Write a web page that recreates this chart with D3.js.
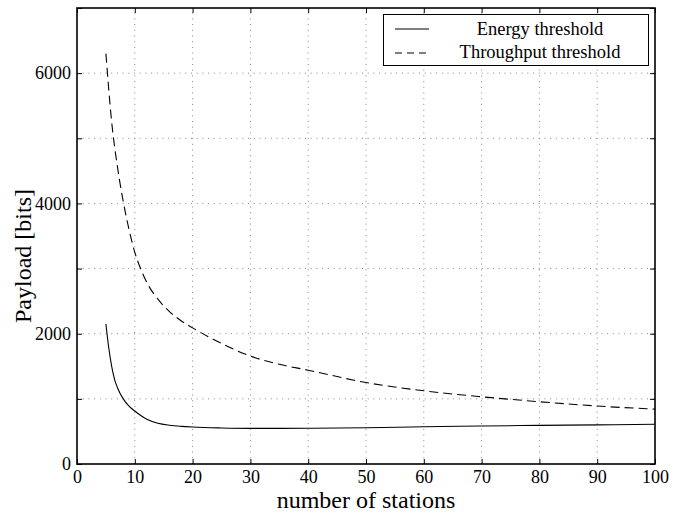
<!DOCTYPE html>
<html><head><meta charset="utf-8">
<script src="https://cdn.jsdelivr.net/npm/d3@7"></script>
<style>body{margin:0;background:#fff}svg{display:block}text{font-family:"Liberation Serif","Times New Roman",serif;fill:#000}</style>
</head><body>
<svg id="c" width="676" height="513"></svg>
<script>
const energyN = [5,5.5,6,6.5,7,8,9,10,12,14,16,18,20,25,30,40,50,60,70,80,90,100];
const energyV = [2150,1780,1500,1300,1170,1000,890,813,690,625,595,578,567,553,547,548,557,572,583,593,600,610];
const thrN = [5,6,7,8,9,10,11,12,14,16,18,20,25,30,35,40,50,60,70,80,90,100];
const thrV = [6300,5250,4560,4030,3600,3250,3000,2800,2530,2340,2200,2090,1850,1656,1530,1440,1250,1124,1032,956,890,843];
const xTicks = [0,10,20,30,40,50,60,70,80,90,100];
const yTicks = [0,1000,2000,3000,4000,5000,6000,7000];
const yLabels = [0,2000,4000,6000];
const seriesNames = ["Energy threshold","Throughput threshold"];

const svg = d3.select("#c");
const L=77,R=655,T=8,B=464;
const x = d3.scaleLinear().domain([0,100]).range([L,R]);
const y = d3.scaleLinear().domain([0,7000]).range([B,T]);

// grid
const g = svg.append("g");
g.selectAll(".gx").data(xTicks.filter(d=>d>0&&d<100)).enter().append("line")
 .attr("x1",d=>x(d)).attr("x2",d=>x(d)).attr("y1",B).attr("y2",T)
 .attr("stroke","#888").attr("stroke-width",1).attr("stroke-dasharray","1,4.7");
g.selectAll(".gy").data(yTicks.filter(d=>d>0&&d<7000)).enter().append("line")
 .attr("x1",L).attr("x2",R).attr("y1",d=>y(d)).attr("y2",d=>y(d))
 .attr("stroke","#888").attr("stroke-width",1).attr("stroke-dasharray","1,4.7");

// axes with inward ticks
const tk=5;
svg.append("g").attr("transform",`translate(0,${B})`)
 .call(d3.axisBottom(x).tickValues(xTicks).tickSize(-tk).tickPadding(6).tickFormat(d3.format("d")))
 .call(a=>{a.select(".domain").remove();a.selectAll("text").attr("font-size",18).attr("dy","0.72em");a.selectAll("line").attr("stroke","#000");});
svg.append("g").attr("transform",`translate(0,${T})`)
 .call(d3.axisTop(x).tickValues(xTicks).tickSize(-tk).tickFormat(""))
 .call(a=>{a.select(".domain").remove();a.selectAll("line").attr("stroke","#000");});
svg.append("g").attr("transform",`translate(${L},0)`)
 .call(d3.axisLeft(y).tickValues(yTicks).tickSize(-tk).tickPadding(6).tickFormat(d=>yLabels.includes(d)?d:""))
 .call(a=>{a.select(".domain").remove();a.selectAll("text").attr("font-size",18);a.selectAll("line").attr("stroke","#000");});
svg.append("g").attr("transform",`translate(${R},0)`)
 .call(d3.axisRight(y).tickValues(yTicks).tickSize(-tk).tickFormat(""))
 .call(a=>{a.select(".domain").remove();a.selectAll("line").attr("stroke","#000");});

svg.append("rect").attr("x",L).attr("y",T).attr("width",R-L).attr("height",B-T)
 .attr("fill","none").attr("stroke","#000").attr("stroke-width",1.6);

// lines
const line = d3.line().x(d=>x(d[0])).y(d=>y(d[1])).curve(d3.curveMonotoneX);
svg.append("path").datum(energyN.map((n,i)=>[n,energyV[i]])).attr("d",line)
 .attr("fill","none").attr("stroke","#000").attr("stroke-width",1.1);
svg.append("path").datum(thrN.map((n,i)=>[n,thrV[i]])).attr("d",line)
 .attr("fill","none").attr("stroke","#000").attr("stroke-width",1.1).attr("stroke-dasharray","9,5");

// legend
const lg = svg.append("g");
lg.append("rect").attr("x",383.5).attr("y",14.5).attr("width",265).attr("height",51)
 .attr("fill","#fff").attr("stroke","#000").attr("stroke-width",1);
lg.append("line").attr("x1",395).attr("x2",429).attr("y1",29).attr("y2",29).attr("stroke","#000").attr("stroke-width",1.1);
lg.append("line").attr("x1",395).attr("x2",429).attr("y1",53).attr("y2",53).attr("stroke","#000").attr("stroke-width",1.1).attr("stroke-dasharray","7,5");
lg.selectAll("text.l").data(seriesNames).enter().append("text")
 .attr("x",540).attr("y",(d,i)=>35+i*23).attr("text-anchor","middle").attr("font-size",18.5).text(d=>d);

// axis titles
svg.append("text").attr("x",x(50)).attr("y",508).attr("text-anchor","middle").attr("font-size",24).text("number of stations");
svg.append("text").attr("transform","translate(31,256) rotate(-90)").attr("text-anchor","middle").attr("font-size",24).text("Payload [bits]");
</script>
</body></html>
